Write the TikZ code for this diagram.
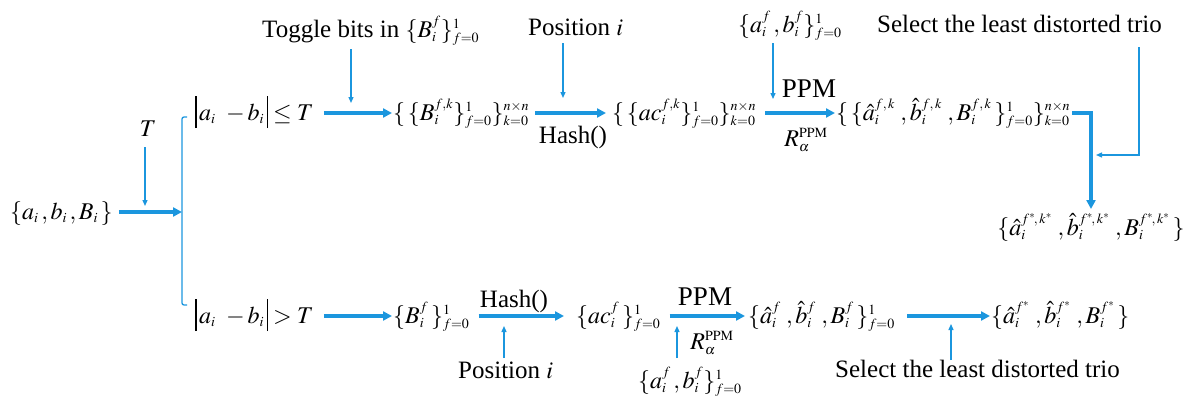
\documentclass[tikz,border=0pt]{standalone}
\usepackage{mathptmx}
\usepackage[no-math]{fontspec}
\setmainfont{Liberation Serif}
\usetikzlibrary{arrows.meta}
\DeclareMathSizes{25}{24}{14}{11}
\DeclareMathSizes{27}{24}{14}{11}
\definecolor{flow}{RGB}{27,150,222}
\newcommand{\vbar}{\rule[-8pt]{1.3pt}{32pt}}
\begin{document}
\begin{tikzpicture}[x=1pt,y=-1pt,
  every node/.style={inner sep=0pt, font=\fontsize{25}{28}\selectfont, text=black},
  big/.style={font=\fontsize{27}{30}\selectfont},
  thickarr/.style={flow, line width=3.2pt, -{Triangle[length=9pt,width=9pt]}},
  thinarr/.style={flow, line width=1.3pt, -{Triangle[length=6pt,width=5pt]}},
  thinline/.style={flow, line width=1.3pt}]
\useasboundingbox (0,0) rectangle (1195,399);

% ---------- left part ----------
\node[anchor=base west] (src) at (10,219) {$\{a_i\,,b_i\,,B_i\,\}$};
\node[anchor=base] (Tl) at (148,136) {$T$};
\coordinate (Tst) at (145,147);
\coordinate (Tin) at (145,206);
\coordinate (br) at (182,212);
\coordinate (brT) at (182,117);
\coordinate (brB) at (182,305);
\coordinate (brT2) at (187,117);
\coordinate (brB2) at (187,305);
\draw[thinline, rounded corners=2pt] (brT2) -- (brT) -- (brB) -- (brB2);
\draw[thickarr] ([shift={(6pt,7pt)}]src.base east) -- (br);
\draw[thinarr] (Tst) -- (Tin);

% ---------- top row ----------
\node[anchor=base west] (c1) at (195,120) {$\vbar\,a_i\;\;{-}\,b_i\,\vbar\le T$};
\node[anchor=base west] (t1) at (393,120) {$\{\,\{B_i^{f,k}\}_{f=0}^{1}\}_{k=0}^{n\times n}$};
\node[anchor=base west] (t2) at (612,120) {$\{\,\{ac_i^{f,k}\}_{f=0}^{1}\}_{k=0}^{n\times n}$};
\node[anchor=base west] (t3) at (836,120) {$\{\,\{\hat a_i^{f,\,k}\;,\hat b_i^{f,\,k}\;,B_i^{f,\,k}\,\}_{f=0}^{1}\}_{k=0}^{n\times n}$};
\node[anchor=base] (t4) at (1091,235) {$\{\hat a_i^{f^*\!,\,k^*}\;,\hat b_i^{f^*\!,\,k^*}\;,B_i^{f^*\!,\,k^*}\,\}$};

\draw[thickarr] ([shift={(10pt,7pt)}]c1.base east) -- ([shift={(-1pt,7pt)}]t1.base west);
\draw[thickarr] ([shift={(6pt,7pt)}]t1.base east) -- ([shift={(-6pt,7pt)}]t2.base west);
\draw[thickarr] ([shift={(9pt,7pt)}]t2.base east) -- ([shift={(-1pt,7pt)}]t3.base west);
\draw[thickarr] ([shift={(2pt,7pt)}]t3.base east) -| ([yshift=4pt]t4.north);

% labels, top row
\node[anchor=base west] (tog) at (262,37) {Toggle bits in $\{B_i^f\}_{f=0}^{1}$};
\node[anchor=base west] (pos1) at (528,35) {Position $i$};
\node[anchor=base west] (ab1) at (738,32) {$\{a_i^f\,,b_i^f\}_{f=0}^{1}$};
\node[anchor=base west] (sel1) at (877,32) {Select the least distorted trio};
\node[anchor=base] (hash1) at (573,143) {Hash()};
\node[anchor=base, big] (ppm1) at (809,97) {PPM};
\node[anchor=base] (r1) at (806,146) {$R_\alpha^{\mathrm{PPM}}$};

\coordinate (togS) at (351,49);  \coordinate (togE) at (351,103);
\coordinate (posS) at (563,43);  \coordinate (posE) at (563,98);
\coordinate (abS)  at (773,43);  \coordinate (abE)  at (773,99);
\coordinate (selS) at (1139,47); \coordinate (selE) at (1096,155);
\draw[thinarr] (togS) -- (togE);
\draw[thinarr] (posS) -- (posE);
\draw[thinarr] (abS) -- (abE);
\draw[thinarr] (selS) |- (selE);

% ---------- bottom row ----------
\node[anchor=base west] (c2) at (195,323) {$\vbar\,a_i\;\;{-}\,b_i\,\vbar> T$};
\node[anchor=base west] (b1) at (393,323) {$\{B_i^f\,\}_{f=0}^{1}$};
\node[anchor=base west] (b2) at (576,323) {$\{ac_i^f\,\}_{f=0}^{1}$};
\node[anchor=base west] (b3) at (748,323) {$\{\hat a_i^f\;,\hat b_i^f\;,B_i^f\,\}_{f=0}^{1}$};
\node[anchor=base west] (b4) at (991,323) {$\{\hat a_i^{f^*}\;,\hat b_i^{f^*}\;,B_i^{f^*}\,\}$};

\draw[thickarr] ([shift={(10pt,7pt)}]c2.base east) -- ([shift={(-1pt,7pt)}]b1.base west);
\draw[thickarr] ([shift={(9pt,7pt)}]b1.base east) -- ([shift={(-12pt,7pt)}]b2.base west);
\draw[thickarr] ([shift={(9pt,7pt)}]b2.base east) -- ([shift={(-3pt,7pt)}]b3.base west);
\draw[thickarr] ([shift={(12pt,7pt)}]b3.base east) -- ([shift={(-1pt,7pt)}]b4.base west);

% labels, bottom row
\node[anchor=base] (hash2) at (514,307) {Hash()};
\node[anchor=base, big] (ppm2) at (705,305) {PPM};
\node[anchor=base] (r2) at (712,349) {$R_\alpha^{\mathrm{PPM}}$};
\node[anchor=base west] (pos2) at (458,378) {Position $i$};
\node[anchor=base west] (ab2) at (638,388) {$\{a_i^f\,,b_i^f\}_{f=0}^{1}$};
\node[anchor=base west] (sel2) at (835,377) {Select the least distorted trio};

\coordinate (pos2S) at (504,358); \coordinate (pos2E) at (504,326);
\coordinate (ab2S)  at (677,358); \coordinate (ab2E)  at (677,326);
\coordinate (sel2S) at (951,360); \coordinate (sel2E) at (951,324);
\draw[thinarr] (pos2S) -- (pos2E);
\draw[thinarr] (ab2S) -- (ab2E);
\draw[thinarr] (sel2S) -- (sel2E);
\end{tikzpicture}
\end{document}
